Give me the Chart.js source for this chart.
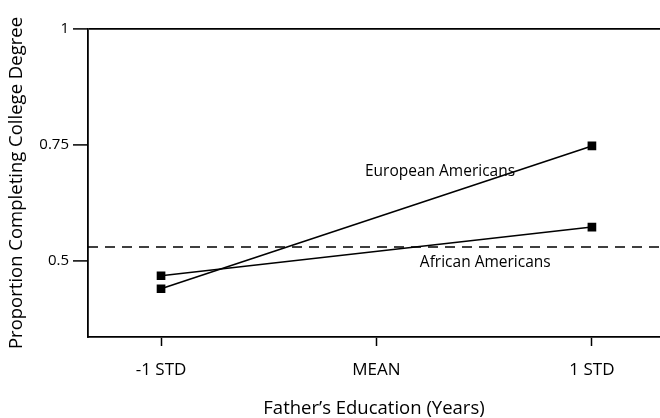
<!DOCTYPE html>
<html>
<head>
<meta charset="utf-8">
<script src="https://cdn.jsdelivr.net/npm/chart.js@4.4.1/dist/chart.umd.min.js"></script>
<style>
  html, body { margin: 0; padding: 0; background: #fff; }
  #contenedor { width: 660px; height: 418px; position: relative; }
</style>
</head>
<body>
<div id="contenedor"><canvas id="grafico"></canvas></div>
<script>
const posicionesX = [-1, 1];
const etiquetasX = { "-1": "-1 STD", "0": "MEAN", "1": "1 STD" };
const ticksX = [-1, 0, 1];
const ticksY = [0.5, 0.75, 1];
const europeos = [0.44, 0.748];
const africanos = [0.468, 0.573];
const referencia = 0.53;

const fuente = "'Open Sans', 'DejaVu Sans', sans-serif";

// rotulos de las series, en coordenadas de datos
const rotulos = [
  { texto: "European Americans", x: 0.295, y: 0.692 },
  { texto: "African Americans", x: 0.505, y: 0.496 },
];

const X_MIN = -1.339;
const X_MAX = 1.316;

const pluginRotulos = {
  id: "rotulos",
  afterDatasetsDraw(chart) {
    const { ctx, scales } = chart;
    ctx.save();
    ctx.font = `15.5px ${fuente}`;
    ctx.fillStyle = "#000";
    ctx.textAlign = "center";
    ctx.textBaseline = "middle";
    rotulos.forEach((r) => {
      ctx.fillText(r.texto, scales.x.getPixelForValue(r.x), scales.y.getPixelForValue(r.y));
    });
    ctx.restore();
  },
};

const serie = (datos) => posicionesX.map((x, i) => ({ x, y: datos[i] }));

new Chart(document.querySelector("#grafico"), {
  type: "line",
  data: {
    datasets: [
      {
        label: "European Americans",
        data: serie(europeos),
        borderColor: "#000",
        backgroundColor: "#000",
        borderWidth: 1.6,
        pointStyle: "rect",
        pointRadius: 5,
      },
      {
        label: "African Americans",
        data: serie(africanos),
        borderColor: "#000",
        backgroundColor: "#000",
        borderWidth: 1.6,
        pointStyle: "rect",
        pointRadius: 5,
      },
      {
        label: "Referencia",
        data: [
          { x: X_MIN, y: referencia },
          { x: X_MAX, y: referencia },
        ],
        borderColor: "#000",
        borderWidth: 1.5,
        borderDash: [10, 7],
        pointRadius: 0,
      },
    ],
  },
  options: {
    responsive: true,
    maintainAspectRatio: false,
    animation: false,
    layout: {
      autoPadding: false,
      padding: { top: 29, right: 0, left: 0, bottom: 0 },
    },
    plugins: { legend: { display: false }, tooltip: { enabled: false } },
    scales: {
      x: {
        type: "linear",
        min: X_MIN,
        max: X_MAX,
        afterBuildTicks: (escala) => {
          escala.ticks = ticksX.map((v) => ({ value: v }));
        },
        afterFit: (escala) => {
          escala.height = 81;
        },
        ticks: {
          callback: (v) => etiquetasX[String(v)],
          color: "#000",
          font: { family: fuente, size: 17 },
          padding: 14,
          maxRotation: 0,
        },
        grid: {
          drawOnChartArea: false,
          tickLength: 9,
          tickColor: "#000",
          tickWidth: 1.5,
        },
        border: { display: true, color: "#000", width: 1.8 },
        title: {
          display: true,
          text: "Father’s Education (Years)",
          color: "#000",
          font: { family: fuente, size: 18.5, lineHeight: 1 },
          padding: { top: 14, bottom: 0 },
        },
      },
      y: {
        min: 0.336,
        max: 1,
        afterBuildTicks: (escala) => {
          escala.ticks = ticksY.map((v) => ({ value: v }));
        },
        afterFit: (escala) => {
          escala.width = 88;
        },
        ticks: {
          callback: (v) => String(v),
          color: "#000",
          font: { family: fuente, size: 15 },
          padding: 4,
        },
        grid: {
          drawOnChartArea: true,
          color: (c) => (c.tick && c.tick.value === 1 ? "#000" : "rgba(0,0,0,0)"),
          lineWidth: 1.8,
          tickLength: 15,
          tickColor: "#000",
          tickWidth: 1.5,
        },
        border: { display: true, color: "#000", width: 1.8 },
        title: {
          display: true,
          text: "Proportion Completing College Degree",
          color: "#000",
          font: { family: fuente, size: 18.5 },
          padding: { top: 6, bottom: 4 },
        },
      },
    },
  },
  plugins: [pluginRotulos],
});
</script>
</body>
</html>
